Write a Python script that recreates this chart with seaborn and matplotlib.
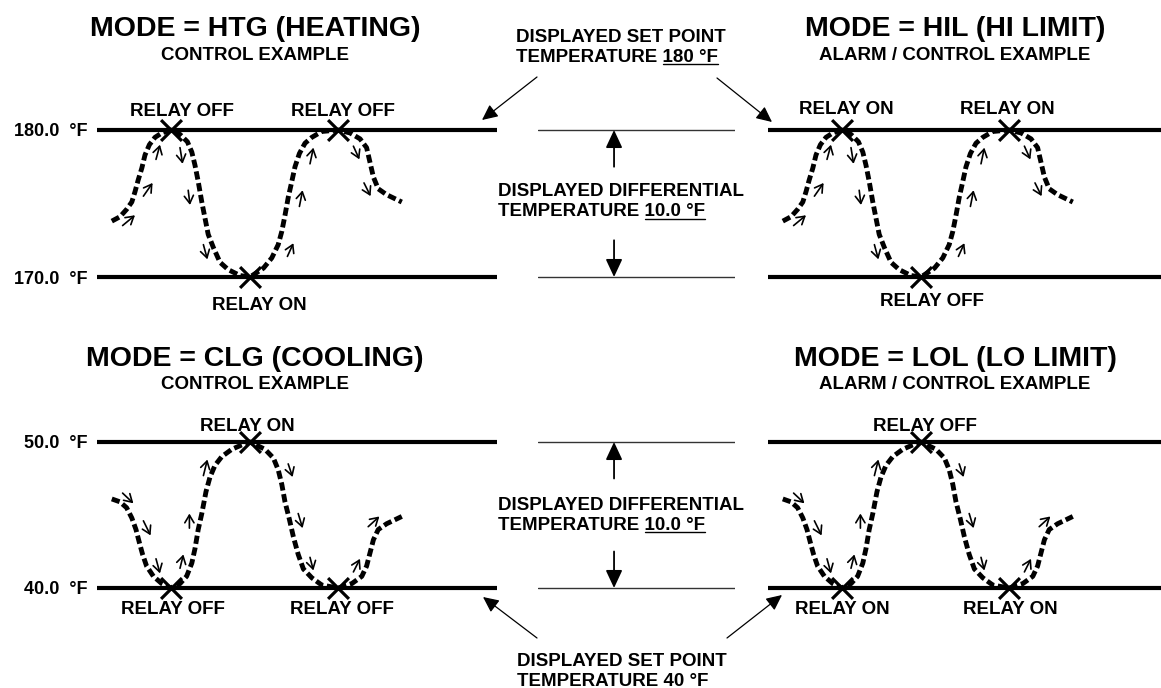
import matplotlib
matplotlib.use("Agg")
import matplotlib.pyplot as plt
from matplotlib.lines import Line2D
import seaborn as sns

# temperature levels (deg F): differential bottom / set point top
heat_levels = [170.0, 180.0]
cool_levels = [40.0, 50.0]
heat_ticklabels = ["170.0  °F", "180.0  °F"]
cool_ticklabels = ["40.0  °F", "50.0  °F"]

# trace of the temperature (time units 0..100 along each panel)
heat_t = [3.7, 5.75, 7.4, 8.7, 9.5, 10.3, 11.2, 12.0, 13.1, 14.5, 16.2, 18.4,
          20.75, 22.6, 23.7, 24.5, 25.3, 26.2, 27.0, 27.8, 29.1, 30.75, 32.8, 35.75, 38.25,
          41.6, 43.7, 45.3, 46.2, 47.0, 47.8, 48.7, 49.5, 50.6, 52.0, 53.7, 56.2, 60.3,
          63.25, 65.75, 67.4, 68.25, 69.1, 70.3, 72.4, 76.2]
heat_T = [173.8, 174.1, 174.6, 175.1, 175.8, 176.6, 177.4, 178.3, 179.0, 179.5, 179.8, 180.0,
          179.7, 179.2, 178.5, 177.6, 176.5, 175.1, 174.0, 172.9, 172.0, 171.0, 170.5, 170.1, 170.0,
          170.6, 171.3, 172.2, 173.1, 174.2, 175.4, 176.5, 177.5, 178.4, 179.1, 179.5, 179.9, 180.0,
          179.8, 179.4, 178.8, 177.8, 176.8, 176.0, 175.6, 175.1]
cool_t = [3.7, 5.75, 7.4, 8.7, 9.75, 10.6, 11.4, 12.4, 14.1, 16.2, 18.4,
          20.75, 22.4, 23.7, 24.5, 25.3, 26.2, 27.25, 28.25, 29.5, 31.2, 33.7, 36.2, 38.25,
          42.0, 44.1, 45.3, 46.2, 47.0, 48.1, 49.1, 50.3, 51.6, 53.7, 56.2, 60.3,
          63.7, 66.2, 67.4, 68.25, 69.1, 70.3, 72.4, 76.2]
cool_T = [46.1, 45.9, 45.5, 44.8, 44.0, 43.1, 42.3, 41.5, 40.8, 40.3, 40.0,
          40.3, 40.8, 41.7, 42.7, 44.0, 45.1, 46.6, 47.6, 48.4, 49.0, 49.5, 49.8, 50.0,
          49.5, 48.9, 48.1, 47.1, 45.9, 44.7, 43.5, 42.3, 41.3, 40.7, 40.2, 40.0,
          40.3, 40.8, 41.5, 42.4, 43.3, 44.0, 44.4, 44.9]

# switching points (X marks)
switch_t = [18.4, 38.25, 60.3]
heat_switch_T = [180.0, 170.0, 180.0]
cool_switch_T = [40.0, 50.0, 40.0]

# little direction arrows next to the trace: tail -> head
heat_arr_t0 = [6.4, 11.6, 14.75, 20.75, 22.8, 26.6, 47.6, 50.6, 53.25, 64.1, 66.75]
heat_arr_T0 = [173.5, 175.5, 178.0, 178.8, 175.9, 172.2, 171.4, 174.8, 177.7, 178.9, 176.4]
heat_arr_t1 = [9.5, 13.9, 15.75, 21.4, 23.25, 27.6, 49.1, 51.4, 54.1, 65.6, 68.4]
heat_arr_T1 = [174.2, 176.4, 179.0, 177.7, 174.9, 171.2, 172.3, 175.9, 178.8, 178.0, 175.5]
cool_arr_t0 = [6.4, 11.6, 14.75, 20.75, 23.1, 26.6, 47.8, 50.3, 53.25, 64.1, 67.8]
cool_arr_T0 = [46.5, 44.6, 42.0, 41.35, 44.1, 47.7, 48.5, 45.1, 42.1, 41.1, 44.2]
cool_arr_t1 = [9.1, 13.4, 15.75, 21.6, 23.1, 27.6, 48.9, 51.4, 54.1, 65.75, 70.6]
cool_arr_T1 = [45.8, 43.6, 41.0, 42.3, 45.1, 48.8, 47.6, 44.1, 41.2, 42.0, 44.9]

titles = ["MODE = HTG (HEATING)", "MODE = HIL (HI LIMIT)",
          "MODE = CLG (COOLING)", "MODE = LOL (LO LIMIT)"]
subtitles = ["CONTROL EXAMPLE", "ALARM / CONTROL EXAMPLE",
             "CONTROL EXAMPLE", "ALARM / CONTROL EXAMPLE"]
relay_labels = [["RELAY OFF", "RELAY ON", "RELAY OFF"],
                ["RELAY ON", "RELAY OFF", "RELAY ON"],
                ["RELAY OFF", "RELAY ON", "RELAY OFF"],
                ["RELAY ON", "RELAY OFF", "RELAY ON"]]
relay_label_t = [[21.25, 40.5, 61.5],
                 [19.5, 41.0, 59.75],
                 [19.0, 37.5, 61.25],
                 [18.5, 39.25, 60.5]]

W, H = 1161, 688
sns.set_theme(style="white")
plt.rcParams["font.family"] = ["Liberation Sans", "DejaVu Sans"]
plt.rcParams["font.weight"] = "bold"
plt.rcParams["text.color"] = "black"
plt.rcParams["ytick.color"] = "black"
plt.rcParams["ytick.labelcolor"] = "black"

TXT = 13.5

fig = plt.figure(figsize=(W / 100, H / 100), dpi=100)
fig.patch.set_facecolor("white")


def fxy(x, y):
    return x / W, 1 - y / H


def make_axes(x0, width, top_line_y, px_deg, levels):
    lo, hi = levels
    ymin, ymax = lo - 3, hi + 3
    top = top_line_y - (ymax - hi) * px_deg
    height = (ymax - ymin) * px_deg
    ax = fig.add_axes([x0 / W, 1 - (top + height) / H, width / W, height / H])
    ax.set_ylim(ymin, ymax)
    ax.patch.set_alpha(0)
    sns.despine(ax=ax, left=True, bottom=True)
    ax.set_xticks([])
    ax.set_yticks([])
    ax.grid(False)
    return ax


panels = [
    (97, 130, 14.7, heat_levels, heat_ticklabels, heat_t, heat_T, heat_switch_T,
     (heat_arr_t0, heat_arr_T0, heat_arr_t1, heat_arr_T1), (255, 36.5, 59.5), (13.5, 32.5)),
    (768, 130, 14.7, heat_levels, None, heat_t, heat_T, heat_switch_T,
     (heat_arr_t0, heat_arr_T0, heat_arr_t1, heat_arr_T1), (955, 36.5, 59.5), (16.0, 29.0)),
    (97, 442, 14.6, cool_levels, cool_ticklabels, cool_t, cool_T, cool_switch_T,
     (cool_arr_t0, cool_arr_T0, cool_arr_t1, cool_arr_T1), (255, 366.5, 389.5), (10.5, 26.5)),
    (768, 442, 14.6, cool_levels, None, cool_t, cool_T, cool_switch_T,
     (cool_arr_t0, cool_arr_T0, cool_arr_t1, cool_arr_T1), (955, 366.5, 389.5), (10.5, 26.5)),
]

for i, (x0, top_y, pxd, levels, ticklabels, tt, TT, sw_T, arrows, tpos, lab_off) in enumerate(panels):
    ax = make_axes(x0, 400, top_y, pxd, levels)
    ax.set_xlim(0, 100)
    for lv in levels:
        ax.axhline(lv, color="black", lw=3.0, zorder=1)
    if ticklabels:
        ax.set_yticks(levels, labels=ticklabels)
        ax.tick_params(axis="y", length=0, pad=7, labelsize=13, labelcolor="black")
    sns.lineplot(x=tt, y=TT, sort=False, estimator=None, ax=ax, color="black",
                 lw=3.5, linestyle=(0, (1.7, 0.75)), zorder=3)
    sns.scatterplot(x=switch_t, y=sw_T, marker="x", s=15 ** 2, color="black",
                    linewidth=2.3, ax=ax, zorder=5)
    for a0, b0, a1, b1 in zip(*arrows):
        ax.annotate("", xy=(a1, b1), xytext=(a0, b0),
                    arrowprops=dict(arrowstyle="->,head_length=0.5,head_width=0.3",
                                    lw=1.2, color="black", shrinkA=0, shrinkB=0,
                                    mutation_scale=11))
    for lab, lt, st in zip(relay_labels[i], relay_label_t[i], sw_T):
        dy = lab_off[0] if st == levels[1] else -lab_off[1]
        ax.annotate(lab, xy=(lt, st), xytext=(0, dy), textcoords="offset pixels",
                    ha="center", va="baseline", fontsize=TXT, fontweight="bold")
    fig.text(*fxy(tpos[0], tpos[1]), titles[i], ha="center", va="baseline",
             fontsize=20.5, fontweight="bold")
    fig.text(*fxy(tpos[0], tpos[2]), subtitles[i], ha="center", va="baseline",
             fontsize=TXT, fontweight="bold")

# middle: differential bands
for top_y, pxd, levels in [(130, 14.7, heat_levels), (442, 14.6, cool_levels)]:
    mid = make_axes(538, 197, top_y, pxd, levels)
    mid.set_xlim(0, 1)
    for lv in levels:
        mid.axhline(lv, color="#333333", lw=1.0)
    head = "-|>,head_length=0.9,head_width=0.42"
    mid.annotate("", xy=(0.386, levels[1]), xytext=(0.386, levels[1] - 2.5),
                 arrowprops=dict(arrowstyle=head, lw=1.3, color="black",
                                 shrinkA=0, shrinkB=0, mutation_scale=12))
    mid.annotate("", xy=(0.386, levels[0]), xytext=(0.386, levels[0] + 2.5),
                 arrowprops=dict(arrowstyle=head, lw=1.3, color="black",
                                 shrinkA=0, shrinkB=0, mutation_scale=12))

renderer = fig.canvas.get_renderer()


def two_lines(x, y1, y2, first, second, under=""):
    fig.text(*fxy(x, y1), first, ha="left", va="baseline", fontsize=TXT, fontweight="bold")
    full = fig.text(*fxy(x, y2), second + under, ha="left", va="baseline",
                    fontsize=TXT, fontweight="bold")
    if under:
        bb = full.get_window_extent(renderer)
        probe = fig.text(0, 0, under, fontsize=TXT, fontweight="bold")
        w = probe.get_window_extent(renderer).width
        probe.remove()
        fig.add_artist(Line2D([(bb.x1 - w) / W, bb.x1 / W], [1 - (y2 + 2.5) / H] * 2,
                              transform=fig.transFigure, color="black", lw=1.0))


two_lines(516, 41.5, 61.5, "DISPLAYED SET POINT", "TEMPERATURE ", "180 °F")
two_lines(498, 196.5, 216.5, "DISPLAYED DIFFERENTIAL", "TEMPERATURE ", "10.0 °F")
two_lines(498, 509.5, 529.5, "DISPLAYED DIFFERENTIAL", "TEMPERATURE ", "10.0 °F")
two_lines(517, 666.5, 686.0, "DISPLAYED SET POINT", "TEMPERATURE 40 °F")

# set point pointers
sp_head = "-|>,head_length=0.95,head_width=0.45"
for (xa, ya), (xb, yb) in [((537, 77), (482, 120)), ((717, 78), (772, 122)),
                           ((537, 638), (483, 597)), ((727, 638), (782, 595))]:
    fig.add_artist(matplotlib.patches.FancyArrowPatch(
        fxy(xa, ya), fxy(xb, yb), transform=fig.transFigure,
        arrowstyle=sp_head, mutation_scale=10, lw=0.9, color="black",
        shrinkA=0, shrinkB=0))

fig.savefig("out.png", dpi=100, facecolor="white")
